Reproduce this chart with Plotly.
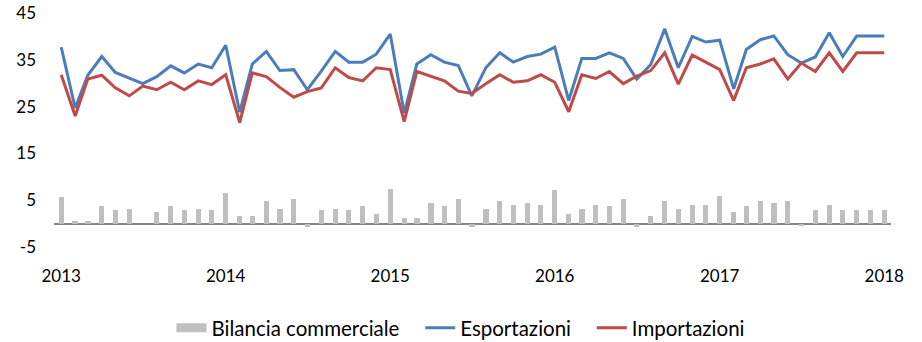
import pandas as pd
import plotly.graph_objects as go

# Monthly series, Jan 2013 - Jan 2018
months = pd.date_range("2013-01-01", periods=61, freq="MS")

esportazioni = [
    37.7, 24.7, 31.7, 35.7, 32.3, 31.0, 29.9, 31.4, 33.7, 32.2, 34.1, 33.3,
    38.1, 23.8, 34.1, 36.8, 32.7, 32.9, 28.6, 32.6, 36.8, 34.5, 34.5, 36.2,
    40.5, 23.6, 34.1, 36.1, 34.5, 33.8, 27.3, 33.3, 36.5, 34.5, 35.7, 36.2,
    37.7, 26.3, 35.3, 35.3, 36.5, 35.3, 30.9, 34.0, 41.6, 33.3, 40.0, 38.8,
    39.2, 28.8, 37.2, 39.3, 40.1, 36.1, 34.3, 35.6, 40.8, 35.7, 40.1, 40.1,
    40.1,
]

importazioni = [
    31.8, 23.0, 30.9, 31.7, 29.0, 27.3, 29.4, 28.6, 30.2, 28.6, 30.5, 29.7,
    31.8, 21.6, 32.2, 31.4, 29.1, 27.0, 28.2, 29.0, 33.3, 31.2, 30.5, 33.3,
    32.9, 21.8, 32.5, 31.5, 30.5, 28.3, 27.8, 29.9, 31.8, 30.2, 30.5, 31.8,
    30.2, 23.9, 31.8, 31.0, 32.5, 29.9, 31.5, 32.7, 36.5, 29.8, 36.0, 34.5,
    32.9, 26.3, 33.3, 34.1, 35.2, 30.9, 34.3, 32.5, 36.5, 32.5, 36.5, 36.5,
    36.5,
]

bilancia = [
    5.6, 0.5, 0.5, 3.7, 2.9, 3.2, 0.0, 2.4, 3.7, 2.9, 3.2, 2.9,
    6.5, 1.6, 1.6, 4.8, 3.2, 5.2, -0.7, 2.9, 3.2, 2.9, 3.7, 2.1,
    7.5, 1.2, 1.2, 4.4, 3.7, 5.2, -0.7, 3.2, 4.8, 4.0, 4.4, 4.0,
    7.2, 2.1, 3.2, 4.0, 3.7, 5.2, -0.7, 1.6, 4.8, 3.2, 4.0, 4.0,
    6.0, 2.4, 3.7, 4.8, 4.4, 4.8, -0.6, 2.9, 4.0, 2.9, 2.9, 2.9,
    2.9,
]

year_ticks = pd.date_range("2013-01-01", periods=6, freq="12MS")
year_labels = ["2013", "2014", "2015", "2016", "2017", "2018"]
y_ticks = [-5, 5, 15, 25, 35, 45]

GRAY = "#BFBFBF"
BLUE = "#4A7EBB"
RED = "#BE4B48"
FONT = "Lato"
DAY_MS = 24 * 3600 * 1000
PAD = "\u00a0" * 3  # extra room between legend entries

fig = go.Figure()

fig.add_trace(go.Bar(
    x=months, y=bilancia, width=12 * DAY_MS,
    marker=dict(color=GRAY, line=dict(width=0)),
    name="Bilancia commerciale", showlegend=False,
))
# legend key drawn as a wide grey band
fig.add_trace(go.Scatter(
    x=[None], y=[None], mode="lines",
    line=dict(color=GRAY, width=9),
    name="Bilancia commerciale" + PAD,
))
fig.add_trace(go.Scatter(
    x=months, y=esportazioni, mode="lines",
    line=dict(color=BLUE, width=3),
    name="Esportazioni" + PAD,
))
fig.add_trace(go.Scatter(
    x=months, y=importazioni, mode="lines",
    line=dict(color=RED, width=3),
    name="Importazioni",
))

fig.update_layout(
    width=922, height=342,
    margin=dict(l=54, r=31, t=13, b=95, autoexpand=False),
    paper_bgcolor="white", plot_bgcolor="white",
    font=dict(family=FONT, size=17, color="#000000"),
    showlegend=True,
    legend=dict(
        orientation="h", x=0.5, xanchor="center", xref="container",
        y=1 - 328 / 342, yanchor="middle", yref="container",
        font=dict(family=FONT, size=20.5, color="#000000"),
        traceorder="normal",
    ),
    bargap=0,
)

fig.update_xaxes(
    type="date",
    range=["2012-12-16", "2018-01-16"],
    tickvals=year_ticks, ticktext=year_labels,
    showgrid=False, showline=False, zeroline=False,
    ticks="", ticklabelstandoff=17,
    tickfont=dict(family=FONT, size=17, color="#000000"),
)
fig.update_yaxes(
    range=[-5, 45],
    tickvals=y_ticks, ticktext=[str(v) for v in y_ticks],
    showgrid=False, showline=False,
    zeroline=True, zerolinecolor="#868686", zerolinewidth=1.5,
    ticks="", ticklabelstandoff=17,
    tickfont=dict(family=FONT, size=17, color="#000000"),
)

fig.write_html("out.html")
